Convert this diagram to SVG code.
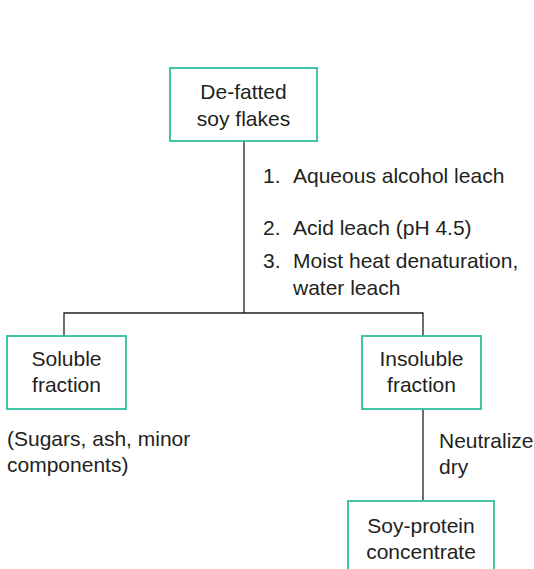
<svg xmlns="http://www.w3.org/2000/svg" width="534" height="569" viewBox="0 0 534 569">
  <style>
    .box { fill: #ffffff; stroke: #2fbf9f; stroke-width: 1.8; }
    .wire { fill: none; stroke: #231f20; stroke-width: 1.3; }
    text { font-family: "Liberation Sans", Arial, Helvetica, sans-serif; font-size: 21px; fill: #231f20; }
    .c { text-anchor: middle; }
  </style>
  <rect width="534" height="569" fill="#ffffff"/>

  <!-- connectors -->
  <g id="connectors" class="wire">
    <path d="M244 141 V313"/>
    <path d="M64 336 V313 H423 V336"/>
    <path d="M423 409 V501"/>
  </g>

  <g id="defatted">
    <rect class="box" x="170" y="68" width="147" height="73"/>
    <text class="c" x="243.5" y="99">De-fatted</text>
    <text class="c" x="243.5" y="126">soy flakes</text>
  </g>

  <g id="steps">
    <text x="263" y="183">1.</text>
    <text x="293" y="183">Aqueous alcohol leach</text>
    <text x="263" y="235">2.</text>
    <text x="293" y="235">Acid leach (pH 4.5)</text>
    <text x="263" y="268">3.</text>
    <text x="293" y="268">Moist heat denaturation,</text>
    <text x="293" y="295">water leach</text>
  </g>

  <g id="soluble">
    <rect class="box" x="7" y="336" width="119" height="73"/>
    <text class="c" x="66.5" y="366">Soluble</text>
    <text class="c" x="66.5" y="392">fraction</text>
  </g>

  <g id="soluble-note">
    <text x="7" y="446">(Sugars, ash, minor</text>
    <text x="7" y="472">components)</text>
  </g>

  <g id="insoluble">
    <rect class="box" x="362" y="336" width="119" height="73"/>
    <text class="c" x="421.5" y="366">Insoluble</text>
    <text class="c" x="421.5" y="392">fraction</text>
  </g>

  <g id="neutralize">
    <text x="439" y="448">Neutralize</text>
    <text x="439" y="474">dry</text>
  </g>

  <g id="concentrate">
    <rect class="box" x="348" y="501" width="146" height="74"/>
    <text class="c" x="421" y="533">Soy-protein</text>
    <text class="c" x="421" y="559">concentrate</text>
  </g>
</svg>
